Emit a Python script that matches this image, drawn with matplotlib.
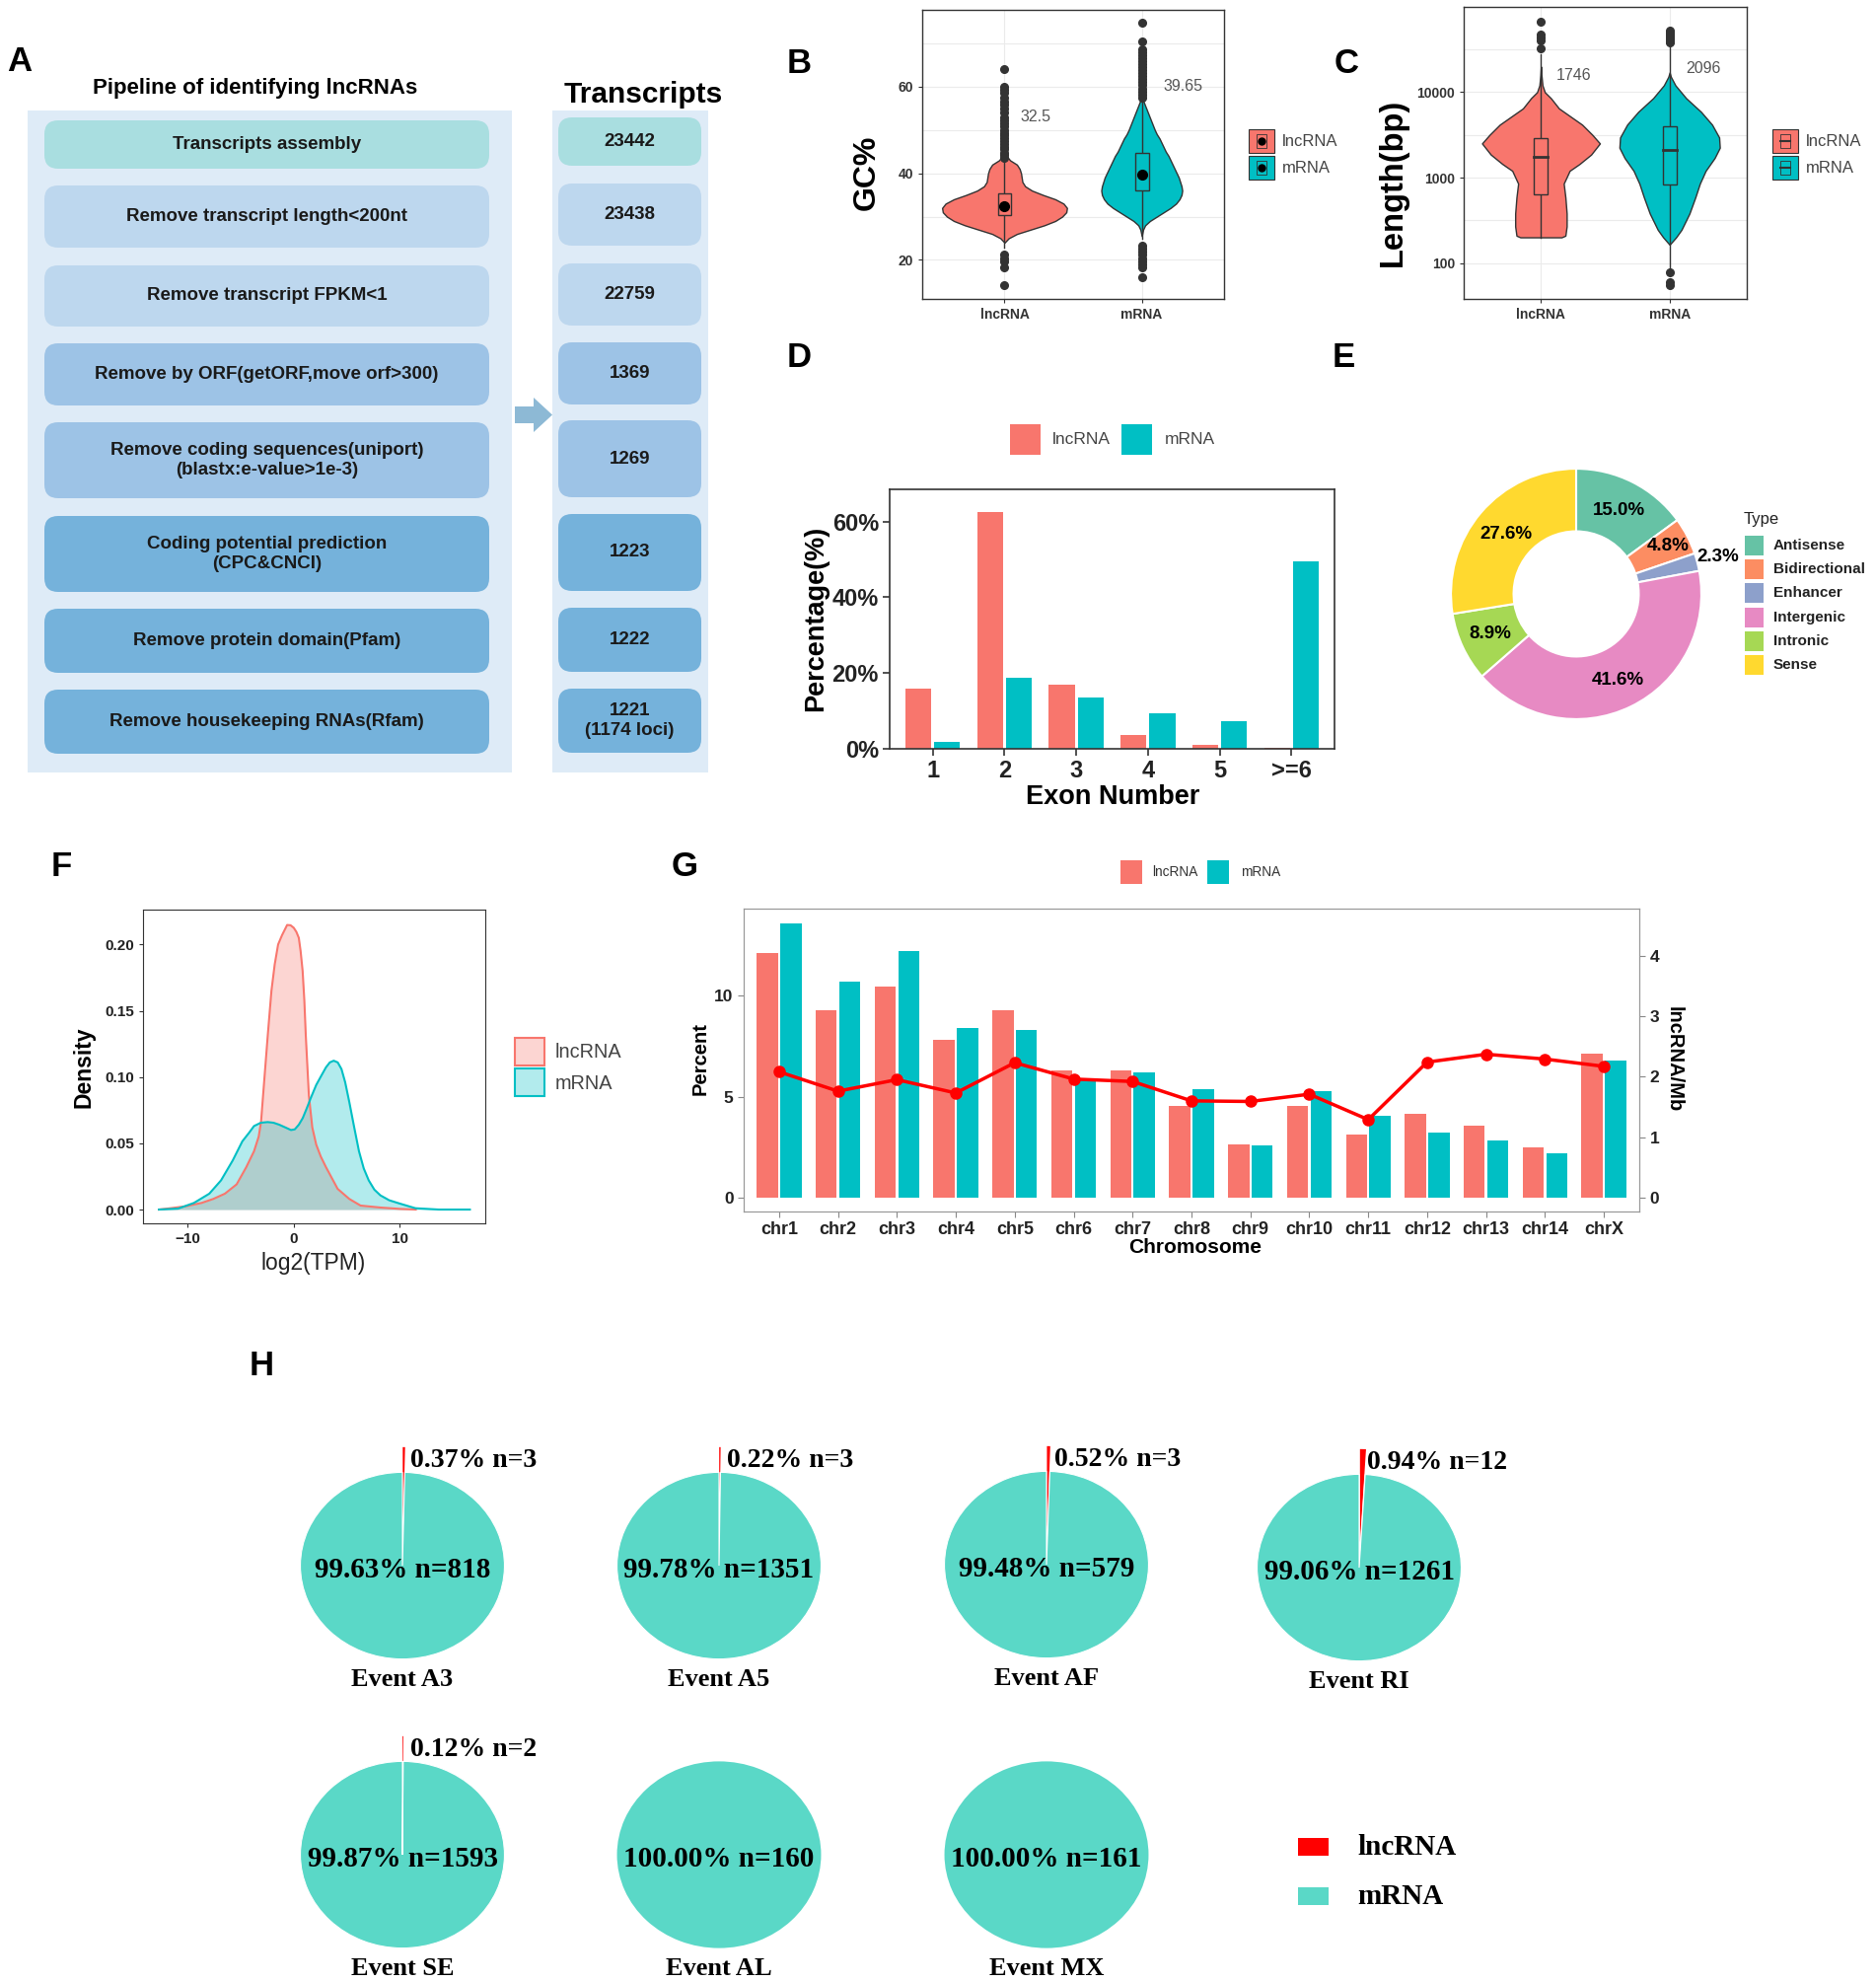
import numpy as np
import matplotlib
matplotlib.use("Agg")
import matplotlib.pyplot as plt
from matplotlib.patches import FancyBboxPatch, Rectangle, Polygon
from matplotlib.path import Path
from matplotlib.ticker import FixedLocator, NullFormatter

plt.rcParams['font.family'] = ['Liberation Sans', 'DejaVu Sans']

'''--- data ---'''
#A: pipeline
steps = ["Transcripts assembly", "Remove transcript length<200nt", "Remove transcript FPKM<1",
         "Remove by ORF(getORF,move orf>300)",
         "Remove coding sequences(uniport)\n(blastx:e-value>1e-3)",
         "Coding potential prediction\n(CPC&CNCI)", "Remove protein domain(Pfam)",
         "Remove housekeeping RNAs(Rfam)"]
counts = ["23442", "23438", "22759", "1369", "1269", "1223", "1222", "1221\n(1174 loci)"]

groups = ["lncRNA", "mRNA"]

#B: GC% violins (y value, half width)
gc_lnc_y = [24.0, 25, 26, 27, 28, 29, 30, 31, 32, 33, 34, 35, 36, 37, 38, 39, 40, 41, 42, 43, 44, 45]
gc_lnc_w = [0.0, 0.03, 0.09, 0.19, 0.29, 0.37, 0.42, 0.45, 0.455, 0.43, 0.37, 0.28, 0.20, 0.15,
            0.13, 0.125, 0.12, 0.11, 0.09, 0.04, 0.015, 0.0]
gc_mrna_y = [25.5, 27, 28, 29, 30, 31, 32, 33, 34, 35, 36, 37, 38, 39, 40, 41, 42, 43, 44, 45,
             46, 47, 48, 49, 50, 52, 54, 56, 57, 58]
gc_mrna_w = [0.0, 0.01, 0.025, 0.06, 0.11, 0.16, 0.21, 0.25, 0.275, 0.29, 0.295, 0.29, 0.28, 0.27,
             0.255, 0.24, 0.225, 0.21, 0.195, 0.175, 0.16, 0.145, 0.13, 0.11, 0.095, 0.07, 0.045,
             0.02, 0.008, 0.0]
gc_box = [[30.4, 32.5, 35.3], [36.1, 39.65, 44.8]]
gc_whisk = [[22.8, 43.0], [25.0, 57.0]]
gc_out = [[43.5, 44.2, 44.8, 45.5, 46.1, 46.8, 47.4, 48.0, 48.7, 49.3, 50.0, 50.8, 51.5, 52.3,
           53.0, 54.0, 55.0, 55.8, 56.5, 57.5, 58.5, 59.3, 60.0, 64.0, 21.3, 20.3, 19.6, 18.2, 14.1],
          [57.5, 58.2, 58.9, 59.6, 60.3, 61.0, 61.7, 62.4, 63.1, 63.8, 64.5, 65.2, 65.9, 66.6, 67.3,
           68.0, 68.7, 70.4, 74.8, 23.3, 22.6, 21.9, 21.2, 20.4, 19.6, 18.9, 18.2, 15.9]]
gc_text = ["32.5", "39.65"]

#C: length violins (bp, half width)
len_lnc_y = [200, 209, 269, 380, 589, 851, 1202, 1445, 1862, 2512, 3162, 4169, 6457, 8511,
             10000, 12023, 15849, 19953]
len_lnc_w = [0.16, 0.19, 0.2, 0.2, 0.19, 0.177, 0.223, 0.30, 0.39, 0.458, 0.40, 0.32, 0.14,
             0.077, 0.03, 0.012, 0.004, 0.0]
len_mrna_y = [164, 200, 245, 380, 589, 851, 1202, 1698, 2239, 2951, 4169, 5888, 8511, 12023,
              15136, 16982]
len_mrna_w = [0.0, 0.05, 0.092, 0.154, 0.2, 0.235, 0.28, 0.35, 0.39, 0.385, 0.33, 0.244, 0.128,
              0.045, 0.01, 0.0]
len_box = [[630, 1746, 2900], [830, 2096, 4000]]
len_whisk = [[200, 28000], [85, 36000]]
len_out = [[67600, 47500, 43500, 40000, 32400],
           [52500, 50000, 47500, 45500, 43500, 41500, 39500, 38000, 78, 59, 55]]
len_text = ["1746", "2096"]

#D: exon number
exon_cats = ["1", "2", "3", "4", "5", ">=6"]
exon_lnc = [16.0, 62.6, 16.8, 3.7, 1.1, 0.35]
exon_mrna = [1.8, 18.8, 13.5, 9.3, 7.2, 49.4]

#E: lncRNA types
types = ["Antisense", "Bidirectional", "Enhancer", "Intergenic", "Intronic", "Sense"]
type_pct = [15.0, 4.8, 2.3, 41.6, 8.9, 27.6]

#F: expression density
dens_lnc_x = [-12.7, -11.6, -10.15, -8.68, -7.58, -6.48, -5.38, -4.47, -3.74, -3.3, -3.08, -2.8,
              -2.45, -2.1, -1.79, -1.47, -1.1, -0.62, -0.3, 0.0, 0.25, 0.48, 0.65, 0.84, 1.0,
              1.14, 1.43, 1.75, 2.12, 2.55, 3.04, 4.14, 5.24, 6.3, 8.2, 10.0, 11.5]
dens_lnc_y = [0.0, 0.001, 0.0025, 0.005, 0.008, 0.012, 0.019, 0.032, 0.044, 0.055, 0.066, 0.095,
              0.131, 0.165, 0.185, 0.200, 0.207, 0.2147, 0.2145, 0.2126, 0.2095, 0.205, 0.195,
              0.180, 0.158, 0.131, 0.086, 0.062, 0.049, 0.040, 0.032, 0.0156, 0.008, 0.003,
              0.0015, 0.0005, 0.0]
dens_mrna_x = [-12.7, -10.9, -9.4, -7.95, -6.85, -5.75, -4.84, -4.2, -3.74, -3.1, -2.45, -1.9,
               -1.36, -0.8, -0.26, 0.1, 0.48, 0.85, 1.21, 1.65, 2.12, 2.6, 3.04, 3.4, 3.77, 4.15,
               4.5, 4.85, 5.24, 5.7, 6.15, 6.6, 7.07, 7.6, 8.17, 9.0, 10.0, 11.47, 13.66, 16.6]
dens_mrna_y = [0.0, 0.0007, 0.005, 0.012, 0.022, 0.037, 0.0515, 0.058, 0.063, 0.0655, 0.066,
               0.0655, 0.064, 0.062, 0.060, 0.0605, 0.064, 0.069, 0.076, 0.085, 0.094, 0.101,
               0.1073, 0.111, 0.1123, 0.111, 0.106, 0.096, 0.081, 0.062, 0.044, 0.031, 0.022,
               0.015, 0.0107, 0.007, 0.0045, 0.001, 0.0, 0.0]

#G: chromosome distribution
chroms = ["chr1", "chr2", "chr3", "chr4", "chr5", "chr6", "chr7", "chr8", "chr9", "chr10",
          "chr11", "chr12", "chr13", "chr14", "chrX"]
chr_lnc = [12.1, 9.29, 10.44, 7.79, 9.29, 6.3, 6.3, 4.55, 2.66, 4.56, 3.15, 4.14, 3.57, 2.5, 7.13]
chr_mrna = [13.57, 10.7, 12.19, 8.38, 8.31, 5.81, 6.19, 5.36, 2.61, 5.28, 4.06, 3.2, 2.84, 2.21, 6.77]
chr_density = [2.08, 1.76, 1.95, 1.73, 2.23, 1.96, 1.92, 1.60, 1.59, 1.71, 1.29, 2.24, 2.37, 2.29, 2.17]

#H: alternative splicing events
events = ["Event A3", "Event A5", "Event AF", "Event RI", "Event SE", "Event AL", "Event MX"]
ev_lnc_n = [3, 3, 3, 12, 2, 0, 0]
ev_mrna_n = [818, 1351, 579, 1261, 1593, 160, 161]
ev_lnc_pct = ["0.37%", "0.22%", "0.52%", "0.94%", "0.12%", "", ""]
ev_mrna_pct = ["99.63%", "99.78%", "99.48%", "99.06%", "99.87%", "100.00%", "100.00%"]

'''--- style ---'''
LNC_COL = '#F8766D'
MRNA_COL = '#00BFC4'
DARK = '#333333'
PIE_TEAL = '#5AD8C7'
type_cols = ['#66C2A5', '#FC8D62', '#8DA0CB', '#E78AC3', '#A6D854', '#FFD92F']
SERIF = ['Liberation Serif', 'DejaVu Serif']

W, H = 1902, 2009
fig = plt.figure(figsize=(W / 100, H / 100), dpi=100)


def add_ax(x0, y0, x1, y1):
    #axes from a pixel box, origin at top-left
    return fig.add_axes([x0 / W, 1 - y1 / H, (x1 - x0) / W, (y1 - y0) / H])


#overlay in pixel units for the flow chart, labels and legends
ov = add_ax(0, 0, W, H)
ov.set_xlim(0, W)
ov.set_ylim(H, 0)
ov.axis('off')

for letter, (lx, ly) in zip("ABCDEFGH", [(20, 63), (810, 64), (1365, 64), (810, 363),
                                           (1362, 363), (62, 878), (694, 878), (265, 1385)]):
    ov.text(lx, ly, letter, ha='center', va='center', fontsize=25, fontweight='bold')

'''--- A: pipeline ---'''
rows_left = [(122, 171), (188, 251), (269, 331), (348, 411), (428, 505), (523, 600), (617, 682), (699, 764)]
rows_right = [(119, 168), (186, 249), (267, 330), (347, 410), (426, 504), (521, 599), (616, 681), (698, 763)]
row_cols = ['#A9DEE0', '#BDD7EE', '#BDD7EE', '#9DC3E6', '#9DC3E6', '#75B2DB', '#75B2DB', '#75B2DB']

ov.add_patch(Rectangle((28, 112), 491, 671, fc='#DEEBF7', ec='none'))
ov.add_patch(Rectangle((560, 112), 158, 671, fc='#DEEBF7', ec='none'))
for i in range(len(steps)):
    t0, t1 = rows_left[i]
    ov.add_patch(FancyBboxPatch((45, t0), 451, t1 - t0, boxstyle='round,pad=0,rounding_size=14',
                                fc=row_cols[i], ec='none'))
    ov.text(270.5, (t0 + t1) / 2, steps[i], ha='center', va='center', fontsize=13.5,
            fontweight='bold', color='#1a1a1a', linespacing=1.2)
    r0, r1 = rows_right[i]
    ov.add_patch(FancyBboxPatch((566, r0), 145, r1 - r0, boxstyle='round,pad=0,rounding_size=14',
                                fc=row_cols[i], ec='none'))
    ov.text(638.5, (r0 + r1) / 2, counts[i], ha='center', va='center', fontsize=13.5,
            fontweight='bold', color='#1a1a1a', linespacing=1.2)
ov.add_patch(Polygon([(522, 412), (541, 412), (541, 403), (560, 420.5), (541, 438), (541, 429),
                      (522, 429)], closed=True, fc='#8DB9D5', ec='none'))
ov.text(259, 89, "Pipeline of identifying lncRNAs", ha='center', va='center', fontsize=16,
        fontweight='bold')
ov.text(652, 96, "Transcripts", ha='center', va='center', fontsize=21.5, fontweight='bold')


def theme_bw(ax):
    for sp in ax.spines.values():
        sp.set_color(DARK)
        sp.set_linewidth(1)
    ax.grid(True, which='both', color='#EBEBEB', lw=0.8)
    ax.set_axisbelow(True)
    ax.tick_params(which='major', length=3, color=DARK)
    ax.tick_params(which='minor', length=0)


def violin(ax, pos, vy, vw, col):
    vw = np.array(vw)
    ax.fill_betweenx(vy, pos - vw, pos + vw, fc=col, ec=DARK, lw=1, zorder=2)


'''--- B: GC content ---'''
axB = add_ax(935, 10, 1241, 303)
for i, (vy, vw, col) in enumerate([(gc_lnc_y, gc_lnc_w, LNC_COL), (gc_mrna_y, gc_mrna_w, MRNA_COL)]):
    pos = i + 1
    violin(axB, pos, vy, vw, col)
    q1, mid, q3 = gc_box[i]
    lo, hi = gc_whisk[i]
    axB.plot([pos, pos], [lo, q1], color=DARK, lw=1, zorder=3)
    axB.plot([pos, pos], [q3, hi], color=DARK, lw=1, zorder=3)
    axB.add_patch(Rectangle((pos - 0.05, q1), 0.1, q3 - q1, fc=col, ec=DARK, lw=1, zorder=4))
    axB.plot([pos] * len(gc_out[i]), gc_out[i], 'o', color=DARK, ms=5.5, zorder=5)
    axB.plot(pos, mid, 'o', color='black', ms=7, zorder=6)
axB.text(1.23, 52.9, gc_text[0], ha='center', va='center', fontsize=11.5, color='#555555')
axB.text(2.30, 60.0, gc_text[1], ha='center', va='center', fontsize=11.5, color='#555555')
axB.set_xlim(0.4, 2.6)
axB.set_ylim(11, 77.7)
axB.set_xticks([1, 2], groups, fontweight='bold', fontsize=10, color=DARK)
axB.set_yticks([20, 40, 60], ["20", "40", "60"], fontweight='bold', fontsize=10, color=DARK)
axB.yaxis.set_minor_locator(FixedLocator([30, 50, 70]))
theme_bw(axB)
ov.text(879, 175, "GC%", rotation=90, ha='center', va='center', fontsize=23, fontweight='bold')

'''--- C: transcript length ---'''
axC = add_ax(1484, 7, 1771, 303)
axC.set_yscale('log')
for i, (vy, vw, col) in enumerate([(len_lnc_y, len_lnc_w, LNC_COL), (len_mrna_y, len_mrna_w, MRNA_COL)]):
    pos = i + 1
    violin(axC, pos, vy, vw, col)
    q1, med, q3 = len_box[i]
    lo, hi = len_whisk[i]
    axC.plot([pos, pos], [lo, q1], color=DARK, lw=1, zorder=3)
    axC.plot([pos, pos], [q3, hi], color=DARK, lw=1, zorder=3)
    axC.add_patch(Rectangle((pos - 0.052, q1), 0.104, q3 - q1, fc=col, ec=DARK, lw=1, zorder=4))
    axC.plot([pos - 0.052, pos + 0.052], [med, med], color=DARK, lw=2, zorder=5)
    axC.plot([pos] * len(len_out[i]), len_out[i], 'o', color=DARK, ms=5.5, zorder=5)
axC.text(1.258, 15800, len_text[0], ha='center', va='center', fontsize=11.5, color='#555555')
axC.text(2.263, 18700, len_text[1], ha='center', va='center', fontsize=11.5, color='#555555')
axC.set_xlim(0.4, 2.6)
axC.set_ylim(38, 99500)
axC.set_xticks([1, 2], groups, fontweight='bold', fontsize=10, color=DARK)
axC.yaxis.set_major_locator(FixedLocator([100, 1000, 10000]))
axC.set_yticks([100, 1000, 10000], ["100", "1000", "10000"], fontweight='bold', fontsize=10, color=DARK)
axC.yaxis.set_minor_locator(FixedLocator([316.2, 3162, 31623]))
axC.yaxis.set_minor_formatter(NullFormatter())
theme_bw(axC)
ov.text(1412, 185, "Length(bp)", rotation=90, ha='center', va='center', fontsize=23.5,
        fontweight='bold')

#legends B and C
for lx, dot in [(1266, True), (1797, False)]:
    for j, col in enumerate([LNC_COL, MRNA_COL]):
        ky = 131 + j * 27
        ov.add_patch(Rectangle((lx, ky), 26, 24, fc=col, ec=DARK, lw=0.8))
        ov.add_patch(Rectangle((lx + 8, ky + 5), 10, 14, fc=col, ec=DARK, lw=0.6))
        if dot:
            ov.plot(lx + 13, ky + 12, 'o', color='black', ms=5)
        else:
            ov.plot([lx + 8, lx + 18], [ky + 12, ky + 12], color=DARK, lw=1.5)
        ov.text(lx + 34, ky + 12.5, groups[j], ha='left', va='center', fontsize=12, color='#444444')

'''--- D: exon number ---'''
axD = add_ax(902, 496, 1353, 759)
xD = np.arange(1, len(exon_cats) + 1)
axD.bar(xD - 0.2, exon_lnc, 0.36, color=LNC_COL)
axD.bar(xD + 0.2, exon_mrna, 0.36, color=MRNA_COL)
axD.set_xlim(0.4, 6.6)
axD.set_ylim(0, 68.5)
axD.set_xticks(xD, exon_cats, fontweight='bold', fontsize=17, color='#222222')
axD.set_yticks([0, 20, 40, 60], ["0%", "20%", "40%", "60%"], fontweight='bold', fontsize=17,
               color='#222222')
axD.tick_params(length=5, width=1.2, color=DARK, pad=3)
for sp in axD.spines.values():
    sp.set_color(DARK)
    sp.set_linewidth(1.2)
ov.text(827, 627, "Percentage(%)", rotation=90, ha='center', va='center', fontsize=19.5,
        fontweight='bold')
ov.text(1128, 808, "Exon Number", ha='center', va='center', fontsize=19.5, fontweight='bold')
for kx, tx, col, lab in [(1024, 1067, LNC_COL, groups[0]), (1137, 1181, MRNA_COL, groups[1])]:
    ov.add_patch(Rectangle((kx, 430), 31, 31, fc=col, ec='none'))
    ov.text(tx, 446, lab, ha='left', va='center', fontsize=12.5, color='#444444')

'''--- E: lncRNA types donut ---'''
axE = add_ax(1598 - 165, 602 - 165, 1598 + 165, 602 + 165)
wedges, _ = axE.pie(type_pct, colors=type_cols, startangle=90, counterclock=False,
                    wedgeprops=dict(width=0.5, edgecolor='white', linewidth=1.5))
axE.set_xlim(-1.3, 1.3)
axE.set_ylim(-1.3, 1.3)
label_r = [0.75, 0.83, 1.17, 0.77, 0.76, 0.74]
for w, pct, r in zip(wedges, type_pct, label_r):
    ang = np.deg2rad((w.theta1 + w.theta2) / 2)
    axE.text(r * np.cos(ang), r * np.sin(ang), f"{pct:.1f}%", ha='center', va='center',
             fontsize=13.5, fontweight='bold')
ov.text(1768, 527, "Type", ha='left', va='center', fontsize=12, color='#222222')
for j, (t, col) in enumerate(zip(types, type_cols)):
    ky = 553 + j * 24.2
    ov.add_patch(Rectangle((1769, ky - 10), 19, 20, fc=col, ec='none'))
    ov.text(1798, ky, t, ha='left', va='center', fontsize=11, fontweight='bold', color='#222222')

'''--- F: expression density ---'''
axF = add_ax(145, 922, 492, 1240)
axF.fill_between(dens_lnc_x, dens_lnc_y, color=LNC_COL, alpha=0.3, lw=0)
axF.plot(dens_lnc_x, dens_lnc_y, color=LNC_COL, lw=1.5)
axF.fill_between(dens_mrna_x, dens_mrna_y, color=MRNA_COL, alpha=0.3, lw=0)
axF.plot(dens_mrna_x, dens_mrna_y, color=MRNA_COL, lw=1.5)
axF.set_xlim(-14.2, 18.05)
axF.set_ylim(-0.0104, 0.2263)
axF.set_xticks([-10, 0, 10], ["\u221210", "0", "10"], fontweight='bold', fontsize=11, color='#222222')
axF.set_yticks([0, 0.05, 0.10, 0.15, 0.20], ["0.00", "0.05", "0.10", "0.15", "0.20"],
               fontweight='bold', fontsize=11, color='#222222')
axF.tick_params(length=3, color=DARK)
for sp in axF.spines.values():
    sp.set_color(DARK)
ov.text(85, 1082, "Density", rotation=90, ha='center', va='center', fontsize=16.5, fontweight='bold')
ov.text(318, 1280, "log2(TPM)", ha='center', va='center', fontsize=16.5, color='#222222')
for j, col in enumerate([LNC_COL, MRNA_COL]):
    ky = 1052 + j * 31
    ov.add_patch(Rectangle((522, ky), 30, 28, fc=col, alpha=0.3, ec='none'))
    ov.add_patch(Rectangle((522, ky), 30, 28, fc='none', ec=col, lw=1.5))
    ov.text(563, ky + 15, groups[j], ha='left', va='center', fontsize=14.3, color='#444444')

'''--- G: chromosome distribution ---'''
axG = add_ax(754, 921, 1662, 1228)
xG = np.arange(1, len(chroms) + 1)
axG.bar(xG - 0.2, chr_lnc, 0.36, color=LNC_COL)
axG.bar(xG + 0.2, chr_mrna, 0.36, color=MRNA_COL)
axG.set_xlim(0.4, 15.6)
axG.set_ylim(-0.68, 14.3)
axG.set_xticks(xG, chroms, fontweight='bold', fontsize=13, color='#222222')
axG.set_yticks([0, 5, 10], ["0", "5", "10"], fontweight='bold', fontsize=12.5, color='#222222')
axG.tick_params(length=4, color='#888888')
axG2 = axG.twinx()
axG2.plot(xG, chr_density, '-o', color='#FF0000', lw=2.5, ms=8)
axG2.set_ylim(-0.68 * 0.3339, 14.3 * 0.3339)
axG2.set_yticks([0, 1, 2, 3, 4], ["0", "1", "2", "3", "4"], fontweight='bold', fontsize=12.5,
                color='#222222')
axG2.tick_params(length=4, color='#888888')
for a in (axG, axG2):
    for sp in a.spines.values():
        sp.set_color('#999999')
ov.text(710, 1073, "Percent", rotation=90, ha='center', va='center', fontsize=14.5, fontweight='bold')
ov.text(1697, 1074, "lncRNA/Mb", rotation=-90, ha='center', va='center', fontsize=14.5,
        fontweight='bold')
ov.text(1212, 1265, "Chromosome", ha='center', va='center', fontsize=15, fontweight='bold')
for kx, tx, col, lab in [(1136, 1168, LNC_COL, groups[0]), (1224, 1258, MRNA_COL, groups[1])]:
    ov.add_patch(Rectangle((kx, 872), 22, 24, fc=col, ec='none'))
    ov.text(tx, 884, lab, ha='left', va='center', fontsize=9.8, color='#333333')

'''--- H: splicing event pies ---'''
pie_centers = [(408, 1587), (729, 1587), (1061, 1586), (1378, 1589),
               (408, 1880), (729, 1880), (1061, 1880)]
theta = np.linspace(0, 2 * np.pi, 200)
ring_verts = np.concatenate([np.c_[2.5 * np.cos(theta), 2.5 * np.sin(theta)],
                             np.c_[np.cos(theta[::-1]), np.sin(theta[::-1])]])
ring_codes = np.full(len(ring_verts), Path.LINETO)
ring_codes[0] = Path.MOVETO
ring_codes[200] = Path.MOVETO
ring = Path(ring_verts, ring_codes)
for i, ev in enumerate(events):
    cx, cy = pie_centers[i]
    a = add_ax(cx - 134.5, cy - 123, cx + 134.5, cy + 123)
    if ev_lnc_n[i] > 0:
        ws, _ = a.pie([ev_lnc_n[i], ev_mrna_n[i]], colors=['#FF0000', PIE_TEAL], startangle=90,
                      counterclock=False, explode=[0.27, 0])
        ws[0].set_edgecolor('none')
        ws[0].set_clip_path(ring, a.transData)
        ws[1].set_edgecolor('white')
        ws[1].set_linewidth(0.8)
        a.text(0.08, 1.13, f"{ev_lnc_pct[i]} n={ev_lnc_n[i]}", ha='left', va='center', fontsize=20,
               fontweight='bold', family=SERIF)
    else:
        a.pie([ev_mrna_n[i]], colors=[PIE_TEAL], startangle=90, counterclock=False)
    a.set_aspect('auto')
    a.set_xlim(-1.3, 1.3)
    a.set_ylim(-1.3, 1.3)
    a.text(0, -0.05, f"{ev_mrna_pct[i]} n={ev_mrna_n[i]}", ha='center', va='center', fontsize=21,
           fontweight='bold', family=SERIF)
    a.text(0, -1.22, ev, ha='center', va='center', fontsize=19, fontweight='bold', family=SERIF)
ov.add_patch(Rectangle((1316, 1863), 31, 17.5, fc='#FF0000', ec='none'))
ov.add_patch(Rectangle((1316, 1913), 31, 17.5, fc=PIE_TEAL, ec='none'))
ov.text(1376, 1872, "lncRNA", ha='left', va='center', fontsize=21, fontweight='bold', family=SERIF)
ov.text(1376, 1922, "mRNA", ha='left', va='center', fontsize=21, fontweight='bold', family=SERIF)

fig.savefig("out.png", dpi=100)
